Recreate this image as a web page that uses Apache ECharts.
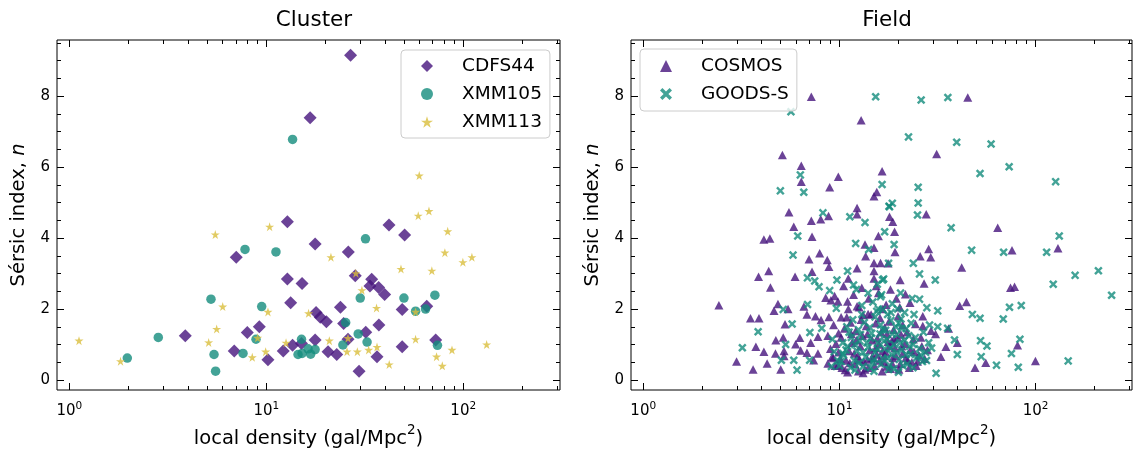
<!DOCTYPE html>
<html><head><meta charset="utf-8">
<script src="https://cdn.jsdelivr.net/npm/echarts@6/dist/echarts.min.js"></script>
<style>html,body{margin:0;padding:0;background:#fff}#c{width:1138px;height:449px}</style>
</head><body><div id="c"></div>
<script>
// ---------- data ----------
const panelTitles = ['Cluster', 'Field'];
const clusterNames = ['CDFS44', 'XMM105', 'XMM113'];
const fieldNames = ['COSMOS', 'GOODS-S'];
const xMajorTicks = [1, 10, 100];
const xMinorTicks = [2,3,4,5,6,7,8,9,20,30,40,50,60,70,80,90,200,300];
const yMajorTicks = [0, 2, 4, 6, 8];
const yMinorTicks = [0.5,1,1.5,2.5,3,3.5,4.5,5,5.5,6.5,7,7.5,8.5,9,9.5];

const cdfs44 = [[16.7,7.39],[26.8,9.15],[12.8,4.46],[42,4.37],[7.04,3.46],[17.7,3.83],[12.8,2.85],[15.2,2.72],[13.3,2.18],[3.88,1.25],[8.01,1.34],[9.22,1.50],[6.88,0.82],[10.2,0.57],[12.2,0.82],[13.6,0.98],[15.1,1.03],[17.7,1.13],[50.4,4.09],[26.1,3.61],[28.3,2.94],[34.3,2.84],[33.6,2.65],[37.2,2.61],[39.9,2.41],[23.8,2.05],[49,1.99],[65.3,2.08],[17.9,1.90],[18.8,1.77],[20.2,1.64],[24.7,1.59],[37.3,1.55],[32,1.35],[26,1.15],[20.6,0.80],[22.8,0.72],[36.5,0.66],[49,0.94],[72.5,1.13],[29.6,0.25]];
const xmm105 = [[13.6,6.78],[7.8,3.68],[11.2,3.61],[5.24,2.28],[9.48,2.07],[2.83,1.20],[1.97,0.62],[8.87,1.15],[7.62,0.75],[5.43,0.72],[5.53,0.25],[15.1,1.15],[14.5,0.72],[15.2,0.75],[16.3,0.88],[16.8,0.73],[17.7,0.86],[31.9,3.98],[30,2.31],[50,2.31],[71.8,2.39],[57.3,1.94],[64.4,2.0],[25.3,1.62],[29.3,1.30],[32.5,1.07],[24.5,0.99],[74,0.98]];
const xmm113 = [[10.4,4.32],[59.8,5.76],[59.1,4.63],[67,4.76],[83.4,4.19],[5.51,4.10],[6.01,2.07],[10.2,1.92],[16.4,1.88],[5.6,1.44],[5.1,1.06],[1.12,1.11],[1.82,0.53],[9.04,1.19],[12.6,1.05],[8.49,0.64],[9.93,0.80],[21.3,3.46],[80.7,3.59],[99.6,3.32],[110.7,3.46],[48.3,3.13],[69.3,3.08],[28.5,3.01],[30.6,2.53],[36.3,2.03],[57.3,1.92],[20.9,1.11],[26,1.18],[25.7,0.80],[29,0.80],[33.1,0.85],[36.5,0.93],[57.3,1.15],[87.7,0.85],[73.2,0.66],[78.3,0.40],[42.1,0.44],[131.5,1.0]];

const cosmos = [[7.19,7.98],[12.9,7.32],[45.1,7.96],[5.12,6.34],[6.39,6.04],[6.39,5.59],[8.92,5.43],[9.87,5.73],[16.5,5.88],[15.5,5.30],[15.0,5.18],[5.53,4.73],[5.85,4.32],[7.19,4.49],[8.03,4.53],[8.80,4.62],[12.3,4.85],[12.3,4.67],[18.0,4.60],[31.3,6.37],[27.7,4.67],[18.7,4.46],[64.1,4.29],
[4.12,3.96],[4.42,3.99],[7.25,4.04],[13.5,3.82],[15.0,3.73],[15.8,4.06],[13.6,3.49],[7.93,3.57],[7.0,3.40],[8.67,3.38],[8.84,3.19],[15.0,3.30],[16.2,3.30],[17.7,3.29],[3.87,2.91],[4.36,3.07],[4.45,2.61],[5.94,2.91],[7.25,3.05],[11.1,2.86],[10.5,2.65],[12.3,3.15],[15.0,3.07],[15.0,2.86],[15.4,2.65],[2.43,2.11],[4.86,2.14],[4.64,1.95],[3.52,1.74],[3.89,1.74],[5.47,2.0],[6.59,2.07],[6.83,1.85],[7.55,1.80],[8.06,1.69],[8.51,2.32],[9.05,2.25],[9.83,2.21],[9.45,2.37],[11.0,2.21],[12.3,2.08],[8.84,1.78],[10.2,1.77],[10.9,1.77],[13.2,1.83],[14.0,1.86],[5.28,1.57],[4.74,1.12],[5.17,1.20],[6.28,1.19],[5.98,1.01],[7.77,1.22],[8.73,1.25],[9.34,1.55],[9.9,1.32],[7.14,1.05],[3.75,0.94],[4.12,0.80],[4.72,0.75],[5.22,0.82],[5.22,0.68],[6.34,0.83],[6.83,0.77],[7.39,0.56],[7.77,0.75],[8.73,0.47],[9.19,0.66],[9.83,0.42],[2.99,0.52],[3.63,0.30],[4.28,0.47],[5.02,0.30],
[19.1,4.18],[130,3.71],[75.8,3.66],[19.2,3.61],[28.5,3.69],[25.8,3.49],[29.2,3.46],[42.0,3.17],[74.5,2.60],[78.1,2.63],[20.4,2.82],[27.0,2.72],[21.7,2.42],[22.9,2.18],[41.0,2.09],[44.4,2.20],[26.6,1.80],[24.4,1.58],[26.6,1.52],[36.0,1.45],[29.3,1.39],[30.9,1.30],[39.9,1.05],[34.9,0.94],[80.9,0.98],[55.7,0.49],[49.1,0.35],[99.8,0.54],[32.9,0.66],
[10.3,0.35],[10.8,0.55],[11.2,0.82],[11.6,1.05],[12.0,0.45],[12.4,0.68],[12.8,0.95],[13.1,1.25],[13.5,0.30],[13.9,0.58],[14.3,0.85],[14.7,1.12],[15.1,0.40],[15.5,0.72],[15.9,1.00],[16.3,1.35],[16.8,0.50],[17.2,0.78],[17.7,1.08],[18.2,0.32],[18.7,0.62],[19.2,0.90],[19.8,1.20],[20.4,0.45],[21.0,0.75],[21.6,1.02],[22.3,0.55],[23.0,0.85],[23.8,1.15],[24.6,0.40],[25.4,0.70],[26.3,0.95],[27.2,0.60],[28.1,0.85],[10.6,1.45],[11.4,1.62],[12.1,1.38],[12.9,1.70],[13.7,1.52],[14.5,1.85],[15.3,1.60],[16.1,1.75],[17.0,1.48],[17.9,1.65],[18.9,1.42],[19.9,1.80],[21.0,1.55],[22.1,1.35],[9.3,0.62],[9.6,1.02],[9.0,0.88],[11.0,0.22],[13.2,0.20],[16.5,0.25],[12.6,2.05],[14.1,2.30],[15.8,2.45],[17.3,2.12],[11.8,2.40],[13.0,2.60],[19.5,2.30],[18.2,2.55],
[10.1,0.60],[10.7,0.28],[11.3,0.48],[11.9,0.75],[12.5,0.25],[13.3,0.52],[14.0,0.35],[14.6,0.62],[15.3,0.90],[16.0,0.55],[16.6,0.82],[17.4,0.38],[18.0,0.95],[18.6,0.45],[19.4,0.68],[20.1,0.30],[20.8,0.95],[21.8,0.62],[22.7,0.35],[24.0,0.80],[25.0,0.52],[11.5,1.30],[12.2,1.12],[13.9,1.30],[15.6,1.18],[17.5,1.30],[19.0,1.15],[20.6,1.28],[10.2,1.20],[9.5,0.40],[9.9,0.78],[12.6,0.58],[14.9,0.62],[16.9,0.68],[18.5,1.10],[23.4,0.50],[26.0,1.20],[11.1,2.00],[16.6,2.00],[20.3,2.05]];

const goodsS = [[5.66,7.56],[15.3,7.98],[6.32,5.78],[5.0,5.33],[6.58,5.29],[16.5,5.51],[17.9,4.90],[8.24,4.71],[11.3,4.60],[13.5,4.44],[26.1,7.89],[35.7,7.96],[22.5,6.85],[39.6,6.70],[59.3,6.65],[52.1,5.82],[73.3,6.01],[126.5,5.59],[25.2,5.43],[25.2,4.99],[18.0,4.88],[18.6,4.98],[25.0,4.65],[37.1,4.29],
[6.13,4.06],[12.1,3.85],[14.1,3.68],[17.0,4.18],[5.8,3.52],[6.87,2.88],[7.48,2.79],[7.87,2.63],[9.71,2.82],[11.0,3.07],[11.8,2.68],[16.8,2.85],[16.2,2.35],[5.17,1.99],[6.88,2.13],[8.92,2.52],[9.64,2.02],[15.5,1.94],[16.6,1.99],[5.74,1.58],[3.85,1.36],[5.32,1.0],[7.07,1.34],[8.13,1.46],[3.2,0.91],[5.06,0.56],[5.85,0.56],[7.05,0.56],[10.4,0.75],[6.08,0.28],
[132,4.06],[113.8,3.60],[68.7,3.60],[47.2,3.66],[19.0,3.82],[23.8,3.29],[17.8,3.29],[25.6,2.99],[30.8,2.82],[159,2.95],[123,2.70],[209,3.08],[244,2.39],[16.6,2.82],[25.6,2.28],[27.9,2.04],[31.7,1.95],[47.6,1.85],[52.1,1.74],[73.6,2.05],[84.5,2.10],[68.4,1.72],[18.3,1.90],[20.1,1.60],[35.6,1.46],[31.7,1.50],[38.6,1.13],[52.4,1.11],[56.5,0.96],[83.2,1.15],[75.3,0.75],[52.8,0.66],[63.2,0.42],[81.6,0.36],[146.6,0.54],[39.9,0.72],[31.1,0.19],
[10.0,0.40],[10.5,0.70],[11.0,0.95],[11.5,1.20],[11.9,0.55],[12.3,0.82],[12.7,1.10],[13.2,0.38],[13.6,0.65],[14.0,0.92],[14.4,1.18],[14.8,0.50],[15.2,0.78],[15.7,1.05],[16.1,1.30],[16.6,0.60],[17.0,0.88],[17.5,1.15],[18.0,0.42],[18.5,0.72],[19.0,1.00],[19.6,1.28],[20.2,0.58],[20.8,0.85],[21.5,1.12],[22.2,0.45],[23.0,0.72],[23.8,1.00],[24.7,0.62],[25.6,0.88],[26.5,0.52],[27.5,0.78],[28.5,1.05],[10.9,1.50],[11.7,1.70],[12.5,1.42],[13.4,1.62],[14.3,1.48],[15.2,1.78],[16.2,1.55],[17.2,1.40],[18.3,1.68],[19.4,1.50],[20.6,1.72],[21.9,1.45],[23.2,1.60],[9.4,0.80],[9.2,1.15],[12.0,0.28],[15.0,0.25],[17.8,0.30],[20.0,0.22],[13.0,2.10],[14.8,2.20],[16.4,2.40],[12.2,2.55],[18.6,2.15],[15.6,2.70],
[10.2,0.52],[10.8,0.85],[11.4,0.35],[12.0,1.00],[12.6,0.48],[13.2,0.78],[13.8,1.05],[14.4,0.35],[15.0,0.58],[15.6,0.88],[16.3,0.45],[16.9,1.10],[17.6,0.62],[18.2,0.90],[18.9,0.32],[19.6,0.78],[20.4,1.05],[21.1,0.40],[21.9,0.72],[22.8,0.95],[23.7,0.35],[24.4,1.20],[26.0,0.70],[27.8,0.55],[29.5,0.90],[11.2,1.35],[12.8,1.28],[14.6,1.32],[16.6,1.42],[18.6,1.30],[20.8,1.45],[22.6,1.25],[13.0,1.85],[15.8,2.00],[17.6,1.85],[19.8,2.00],[21.5,1.90],[24.0,1.85],[23.5,2.30],[20.5,2.45],[14.0,2.45],[10.4,1.05],[9.8,0.55],[9.1,0.38],[26.8,1.35],[28.8,1.55]];

// ---------- style ----------
const FONT = 'DejaVu Sans';
const X_MIN = 0.866, X_MAX = 310, Y_MIN = -0.28, Y_MAX = 9.58;
const PURPLE = 'rgb(70,20,125)', TEAL = 'rgb(20,140,125)', YELLOW = 'rgb(218,190,60)';
const STAR = 'path://M50 0 L61.17 34.63 L97.55 34.55 L68.07 55.87 L79.39 90.45 L50 69 L20.61 90.45 L31.93 55.87 L2.45 34.55 L38.83 34.63 Z';
const XMARK = 'path://M0 20 L20 0 L50 30 L80 0 L100 20 L70 50 L100 80 L80 100 L50 70 L20 100 L0 80 L30 50 Z';

function powFmt(v) { return '{b|10}{s|' + Math.round(Math.log10(v)) + '}'; }

function xAx(g, pos, ticks, len, withLabel) {
  const a = {
    type: 'log', logBase: 10, gridIndex: g, position: pos, min: X_MIN, max: X_MAX,
    axisLine: {show: false, onZero: false}, splitLine: {show: false}, minorTick: {show: false},
    axisTick: {show: true, inside: true, length: len, customValues: ticks, lineStyle: {color: '#000', width: 1}},
    axisLabel: {show: false}
  };
  if (withLabel) {
    a.axisLabel = {show: true, customValues: ticks, margin: 11, formatter: powFmt,
      rich: {b: {fontFamily: FONT, fontSize: 15, color: '#000'}, s: {fontFamily: FONT, fontSize: 10.5, color: '#000', padding: [0,0,10,0]}}};
    a.name = '{t|local density (gal/Mpc}{s|2}{t|)}';
    a.nameLocation = 'middle';
    a.nameGap = 29;
    a.nameTextStyle = {rich: {t: {fontFamily: FONT, fontSize: 19.5, color: '#000'}, s: {fontFamily: FONT, fontSize: 13.5, color: '#000', padding: [0,0,16,0]}}};
  }
  return a;
}
function yAx(g, pos, ticks, len, withLabel) {
  const a = {
    type: 'value', gridIndex: g, position: pos, min: Y_MIN, max: Y_MAX,
    axisLine: {show: false, onZero: false}, splitLine: {show: false}, minorTick: {show: false},
    axisTick: {show: true, inside: true, length: len, customValues: ticks, lineStyle: {color: '#000', width: 1}},
    axisLabel: {show: false}
  };
  if (withLabel) {
    a.axisLabel = {show: true, customValues: ticks, margin: 7, fontFamily: FONT, fontSize: 15, color: '#000'};
    a.name = '{t|Sérsic index, }{i|n}';
    a.nameLocation = 'middle';
    a.nameGap = 28;
    a.nameTextStyle = {rich: {t: {fontFamily: FONT, fontSize: 19.5, color: '#000'}, i: {fontFamily: FONT, fontSize: 19.5, fontStyle: 'italic', color: '#000'}}};
  }
  return a;
}

// grids 0,1: main panels (major ticks); grids 2,3: same boxes, carrying the minor ticks
const xAxes = [], yAxes = [];
for (let g = 0; g < 2; g++) {
  xAxes.push(xAx(g, 'bottom', xMajorTicks, 7, true));
  xAxes.push(xAx(g, 'top', xMajorTicks, 7, false));
  yAxes.push(yAx(g, 'left', yMajorTicks, 7, true));
  yAxes.push(yAx(g, 'right', yMajorTicks, 7, false));
}
for (let g = 2; g < 4; g++) {
  xAxes.push(xAx(g, 'bottom', xMinorTicks, 4, false));
  xAxes.push(xAx(g, 'top', xMinorTicks, 4, false));
  yAxes.push(yAx(g, 'left', yMinorTicks, 4, false));
  yAxes.push(yAx(g, 'right', yMinorTicks, 4, false));
}

function legend(names, left, top, pad) {
  return {
    data: names, orient: 'vertical', left: left, top: top, padding: pad,
    itemWidth: 12, itemHeight: 12, itemGap: 8, selectedMode: false,
    backgroundColor: 'rgba(255,255,255,0.8)', borderColor: '#cccccc', borderWidth: 1, borderRadius: 4,
    formatter: n => '{g|}{t|' + n + '}',
    textStyle: {fontFamily: FONT, fontSize: 18.5, color: '#000', lineHeight: 20,
      rich: {g: {width: 24, lineHeight: 20}, t: {fontFamily: FONT, fontSize: 18.5, color: '#000', lineHeight: 20}}}
  };
}

function sc(name, data, xi, yi, symbol, size, color) {
  return {type: 'scatter', name: name, data: data, xAxisIndex: xi, yAxisIndex: yi,
    symbol: symbol, symbolSize: size, itemStyle: {color: color, opacity: 0.8}, emphasis: {disabled: true}};
}

const gridBase = {top: 40, height: 350, outerBoundsMode: 'none', containLabel: false};
const option = {
  animation: false,
  backgroundColor: '#fff',
  title: [
    {text: panelTitles[0], left: 309, top: 4, textAlign: 'center', textStyle: {fontFamily: FONT, fontSize: 21.5, fontWeight: 'normal', color: '#000'}},
    {text: panelTitles[1], left: 882, top: 4, textAlign: 'center', textStyle: {fontFamily: FONT, fontSize: 21.5, fontWeight: 'normal', color: '#000'}}
  ],
  grid: [
    Object.assign({left: 57, width: 503, show: true, borderColor: '#000', borderWidth: 1, backgroundColor: 'transparent'}, gridBase),
    Object.assign({left: 631, width: 501, show: true, borderColor: '#000', borderWidth: 1, backgroundColor: 'transparent'}, gridBase),
    Object.assign({left: 57, width: 503, show: false}, gridBase),
    Object.assign({left: 631, width: 501, show: false}, gridBase)
  ],
  legend: [
    legend(clusterNames, 401, 50, [6, 8, 6, 20]),
    legend(fieldNames, 640, 49, [7, 8, 7, 20])
  ],
  xAxis: xAxes,
  yAxis: yAxes,
  series: [
    sc(clusterNames[0], cdfs44, 0, 0, 'diamond', 13, PURPLE),
    sc(clusterNames[1], xmm105, 0, 0, 'circle', 9.5, TEAL),
    sc(clusterNames[2], xmm113, 0, 0, STAR, 9, YELLOW),
    sc(fieldNames[0], cosmos, 2, 2, 'triangle', [9, 8.5], PURPLE),
    sc(fieldNames[1], goodsS, 2, 2, XMARK, 8.5, TEAL)
  ]
};
const chart = echarts.init(document.getElementById('c'), null, {renderer: 'canvas'});
chart.setOption(option);
</script></body></html>
